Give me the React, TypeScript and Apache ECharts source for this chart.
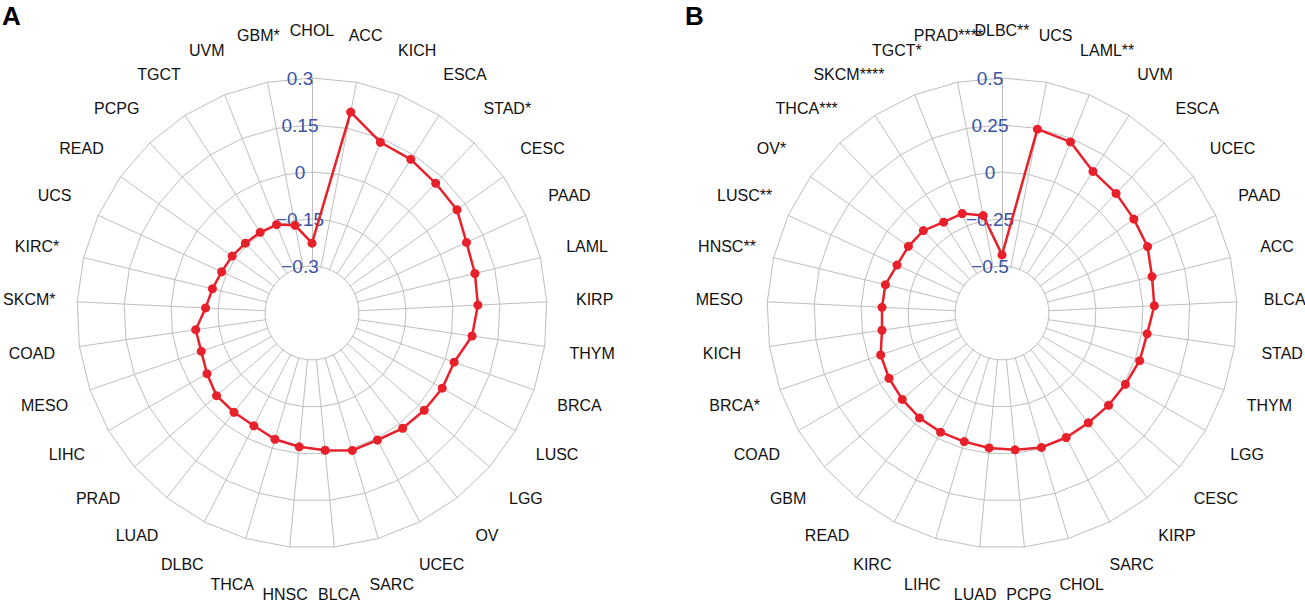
import { useEffect, useRef } from 'react';
import * as echarts from 'echarts';

// Panel A (clockwise from top)
const catsA = ['CHOL','ACC','KICH','ESCA','STAD*','CESC','PAAD','LAML','KIRP','THYM','BRCA','LUSC','LGG','OV','UCEC','SARC','BLCA','HNSC','THCA','DLBC','LUAD','PRAD','LIHC','MESO','COAD','SKCM*','KIRC*','UCS','READ','PCPG','TGCT','UVM','GBM*'];
const valsA = [-0.227,0.203,0.137,0.133,0.122,0.118,0.092,0.085,0.080,0.066,0.030,0.030,0.024,0.018,0.006,0.007,-0.010,-0.021,-0.030,-0.045,-0.047,-0.047,-0.063,-0.076,-0.075,-0.110,-0.123,-0.133,-0.137,-0.142,-0.144,-0.146,-0.165];
const minA = -0.45;
const maxA = 0.3;

// Panel B (clockwise from top)
const catsB = ['DLBC**','UCS','LAML**','UVM','ESCA','UCEC','PAAD','ACC','BLCA','STAD','THYM','LGG','CESC','KIRP','SARC','CHOL','PCPG','LUAD','LIHC','KIRC','READ','GBM','COAD','BRCA*','KICH','MESO','HNSC**','LUSC**','OV*','THCA***','SKCM****','TGCT*','PRAD****'];
const valsB = [-0.441,0.246,0.230,0.145,0.129,0.111,0.101,0.071,0.061,0.030,0.025,0.008,0.000,-0.007,-0.005,-0.005,-0.019,-0.029,-0.037,-0.037,-0.040,-0.048,-0.056,-0.067,-0.105,-0.111,-0.112,-0.136,-0.139,-0.144,-0.176,-0.180,-0.222];
const minB = -0.75;
const maxB = 0.5;

const panelLetters = ['A', 'B'];

const GRID = '#BEBEBE';
const RED = '#E8202A';
const BLUE = '#3A54A5';
const FONT = 'Liberation Sans, Arial, Helvetica, sans-serif';

// ECharts radar runs counter-clockwise; reorder so the picture reads clockwise.
function ccw<T>(arr: T[]): T[] {
  return [arr[0], ...arr.slice(1).reverse()];
}

function tickFormatter(min: number) {
  return (v: number) => {
    if (Math.abs(v - min) < 1e-6) return '';
    const r = Math.round(v * 100) / 100;
    return r < 0 ? '\u2212' + String(Math.abs(r)) : String(r);
  };
}

function buildRadars(cx: number, cats: string[], min: number, max: number) {
  const ind = ccw(cats);
  const base = {
    center: [cx, 313],
    radius: 235,
    startAngle: 90,
    shape: 'polygon',
    splitNumber: 5,
  };
  const grid = {
    ...base,
    z: 0,
    indicator: ind.map((n) => ({ name: n, min, max })),
    nameGap: 48,
    axisName: {
      color: '#111',
      fontSize: 16,
      fontFamily: FONT,
      align: 'center',
      verticalAlign: 'middle',
    },
    splitLine: { lineStyle: { color: GRID, width: 1 } },
    splitArea: { show: false },
    axisLine: { lineStyle: { color: GRID, width: 1 } },
    axisTick: { show: false },
    axisLabel: { show: false },
  };
  const labels = {
    ...base,
    z: 2,
    indicator: ind.map((n, i) => ({
      name: n,
      min,
      max,
      axisLabel: i === 0 ? {
        show: true,
        color: BLUE,
        fontSize: 19,
        fontFamily: FONT,
        margin: 12,
        align: 'center',
        verticalAlign: 'middle',
        formatter: tickFormatter(min),
      } : { show: false },
    })),
    axisName: { show: false },
    splitLine: { show: false },
    splitArea: { show: false },
    axisLine: { show: false },
    axisTick: { show: false },
    axisLabel: { show: false },
  };
  return [grid, labels];
}

export default function App() {
  const ref = useRef<HTMLDivElement>(null);
  useEffect(() => {
    if (!ref.current) return;
    const chart = echarts.init(ref.current, null, { renderer: 'svg' });
    const [gA, lA] = buildRadars(312, catsA, minA, maxA);
    const [gB, lB] = buildRadars(1002, catsB, minB, maxB);
    const seriesStyle = {
      type: 'radar',
      z: 3,
      symbol: 'circle',
      symbolSize: 9,
      lineStyle: { color: RED, width: 2.5 },
      itemStyle: { color: RED },
      areaStyle: undefined,
    };
    chart.setOption({
      animation: false,
      backgroundColor: '#fff',
      radar: [gA, lA, gB, lB],
      series: [
        { ...seriesStyle, radarIndex: 0, data: [{ value: ccw(valsA), name: 'A' }] },
        { ...seriesStyle, radarIndex: 2, data: [{ value: ccw(valsB), name: 'B' }] },
      ],
      graphic: [
        { type: 'circle', z: 1, silent: true, shape: { cx: 312, cy: 313, r: 46 }, style: { fill: '#fff' } },
        { type: 'circle', z: 1, silent: true, shape: { cx: 1002, cy: 313, r: 46 }, style: { fill: '#fff' } },
        { type: 'text', z: 5, left: 2, top: 3, style: { text: panelLetters[0], font: `bold 26px ${FONT}`, fill: '#000' } },
        { type: 'text', z: 5, left: 685, top: 3, style: { text: panelLetters[1], font: `bold 26px ${FONT}`, fill: '#000' } },
      ],
    });
    return () => chart.dispose();
  }, []);
  return (
    <div
      ref={ref}
      style={{ position: 'absolute', left: 0, top: 0, width: 1305, height: 602 }}
    />
  );
}
